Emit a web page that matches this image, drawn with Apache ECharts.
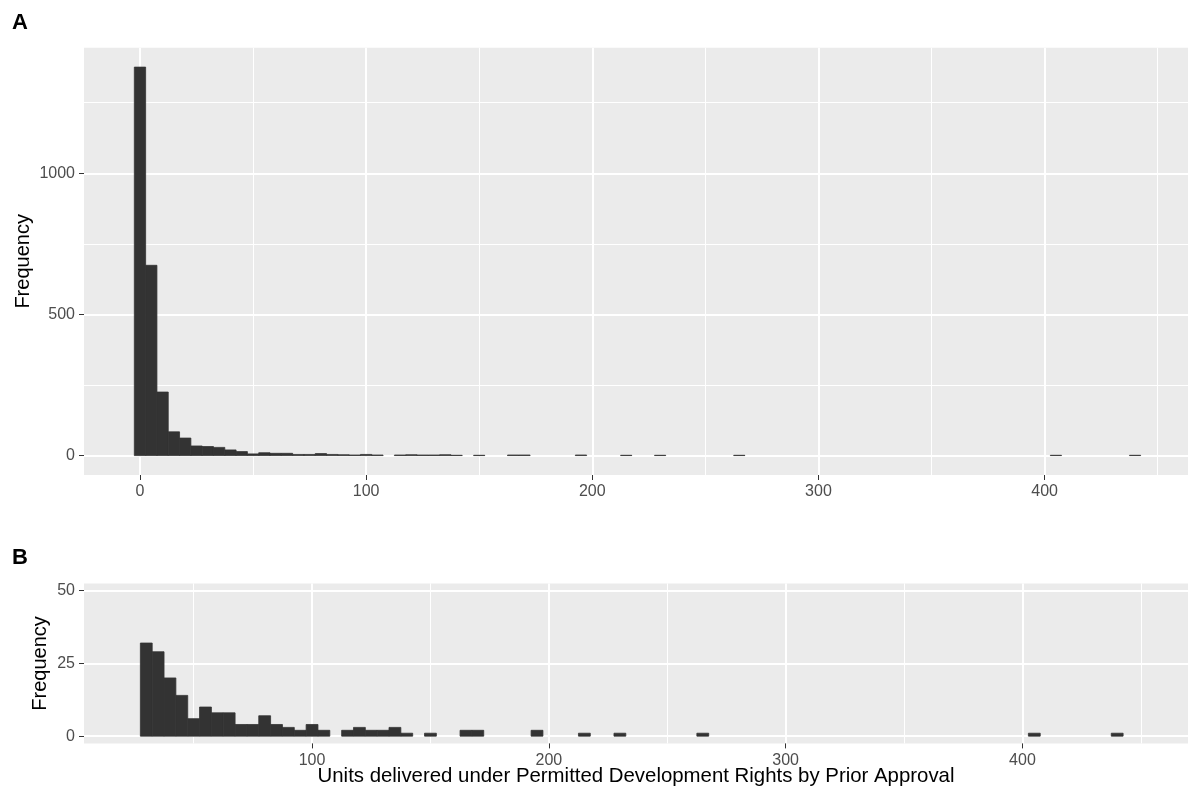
<!DOCTYPE html>
<html><head><meta charset="utf-8">
<script src="https://cdn.jsdelivr.net/npm/echarts@6/dist/echarts.min.js"></script>
<style>html,body{margin:0;padding:0;background:#fff}#c{width:1188px;height:794px}</style>
</head><body><div id="c"></div>
<script>
// ---- data (histogram, bin width 5, bins labelled by their centre) ----
const binWidth = 5;
const headCenters = [0, 5, 10, 15, 20, 25];
const headCounts  = [1376, 674, 225, 84, 62, 34];
const tailCenters = [30,35,40,45,50,55,60,65,70,75,80,85,90,95,100,105,115,120,125,130,135,140,150,165,170,195,215,230,265,405,440];
const tailCounts  = [32,29,20,14,6,10,8,8,4,4,7,4,3,2,4,2,2,3,2,2,3,1,1,2,2,2,1,1,1,1,1];
const xMajorTicks = [0, 100, 200, 300, 400];
const xMinorTicks = [50, 150, 250, 350, 450];
const yMajorTicksA = [0, 500, 1000];
const yMinorTicksA = [250, 750, 1250];
const yTicksB = [0, 25, 50];
const panelTags = ['A', 'B'];
const yTitle = 'Frequency';
const xTitle = 'Units delivered under Permitted Development Rights by Prior Approval';

const allCenters = headCenters.concat(tailCenters);
const allCounts = headCounts.concat(tailCounts);
const dataA = allCenters.map((c, i) => [c, allCounts[i]]);
const dataB = tailCenters.map((c, i) => [c, tailCounts[i]]);

const FONT = 'Liberation Sans, Arial, sans-serif';
const TICK = { color: '#4D4D4D', fontSize: 16, fontFamily: FONT, formatter: v => String(v) };

function renderBar(params, api) {
  const x = api.value(0), y = api.value(1);
  const p0 = api.coord([x - binWidth / 2, y]);
  const p1 = api.coord([x + binWidth / 2, 0]);
  return { type: 'rect', shape: { x: p0[0], y: p0[1], width: p1[0] - p0[0], height: p1[1] - p0[1] },
           style: { fill: '#333333', stroke: '#333333', lineWidth: 0.8 } };
}

function mainAxis(gridIndex, min, max, ticks, extra) {
  return Object.assign({
    type: 'value', gridIndex, min, max,
    axisLine: { show: false, onZero: false },
    axisTick: { show: true, customValues: ticks, length: 5, lineStyle: { color: '#333333', width: 1 } },
    axisLabel: { show: true, customValues: ticks, margin: 9, ...TICK },
    splitLine: { show: true, lineStyle: { color: '#FFFFFF', width: 2 } },
    minorSplitLine: { show: false }
  }, extra || {});
}
function minorAxis(gridIndex, min, max, ticks, position) {
  return {
    type: 'value', gridIndex, min, max, position,
    axisLine: { show: false, onZero: false },
    axisTick: { show: false, customValues: ticks },
    axisLabel: { show: false, customValues: ticks },
    splitLine: { show: true, lineStyle: { color: '#FFFFFF', width: 1 } }
  };
}

const chart = echarts.init(document.getElementById('c'), null, { renderer: 'canvas' });
chart.setOption({
  animation: false,
  backgroundColor: '#FFFFFF',
  grid: [
    { left: 84, top: 47.7, width: 1104, height: 427.3, show: true, backgroundColor: '#EBEBEB', borderWidth: 0, containLabel: false, outerBoundsMode: 'none' },
    { left: 84, top: 583.4, width: 1104, height: 160, show: true, backgroundColor: '#EBEBEB', borderWidth: 0, containLabel: false, outerBoundsMode: 'none' }
  ],
  xAxis: [
    mainAxis(0, -24.75, 463.4, xMajorTicks, { position: 'bottom' }),
    minorAxis(0, -24.75, 463.4, xMinorTicks, 'top'),
    mainAxis(1, 3.7, 469.9, xMajorTicks, { position: 'bottom',
      name: xTitle, nameLocation: 'middle', nameGap: 23, nameMoveOverlap: false,
      nameTextStyle: { color: '#000000', fontSize: 20.4, fontFamily: FONT, verticalAlign: 'top' } }),
    minorAxis(1, 3.7, 469.9, xMinorTicks, 'top')
  ],
  yAxis: [
    mainAxis(0, -68.8, 1444.8, yMajorTicksA, { position: 'left',
      name: yTitle, nameLocation: 'middle', nameGap: 51, nameRotate: 90, nameMoveOverlap: false,
      nameTextStyle: { color: '#000000', fontSize: 20, fontFamily: FONT } }),
    minorAxis(0, -68.8, 1444.8, yMinorTicksA, 'right'),
    mainAxis(1, -2.5, 52.5, yTicksB, { position: 'left',
      name: yTitle, nameLocation: 'middle', nameGap: 34, nameRotate: 90, nameMoveOverlap: false,
      nameTextStyle: { color: '#000000', fontSize: 20, fontFamily: FONT } })
  ],
  series: [
    { type: 'custom', xAxisIndex: 0, yAxisIndex: 0, data: dataA, renderItem: renderBar, encode: { x: 0, y: 1 }, clip: true },
    { type: 'custom', xAxisIndex: 2, yAxisIndex: 2, data: dataB, renderItem: renderBar, encode: { x: 0, y: 1 }, clip: true }
  ],
  graphic: [
    { type: 'text', left: 12, top: 12, style: { text: panelTags[0], fill: '#000', font: 'bold 22px ' + FONT } },
    { type: 'text', left: 12, top: 547, style: { text: panelTags[1], fill: '#000', font: 'bold 22px ' + FONT } }
  ]
});
</script>
</body></html>
